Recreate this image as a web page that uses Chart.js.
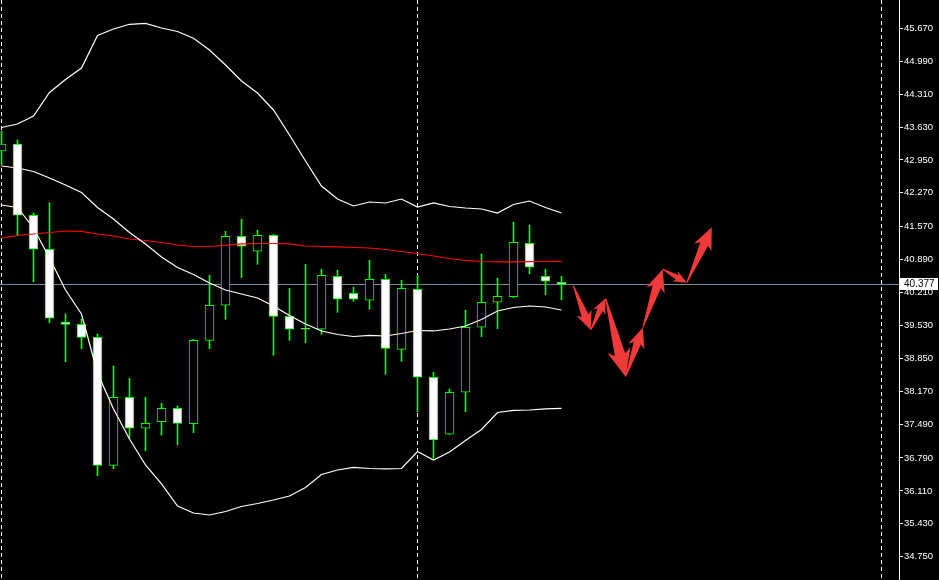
<!DOCTYPE html>
<html>
<head>
<meta charset="utf-8">
<script src="https://cdn.jsdelivr.net/npm/chart.js@4/dist/chart.umd.min.js"></script>
<style>
  html, body { margin: 0; padding: 0; background: #000; overflow: hidden; }
  #wrap { width: 939px; height: 580px; position: relative; }
</style>
</head>
<body>
<div id="wrap"><canvas id="myChart"></canvas></div>
<script>
// candle prices (one entry per bar, oldest first)
const opens  = [43.134, 43.279, 41.806, 41.103, 39.601, 39.553, 39.284, 36.639, 38.044, 37.404,
                37.540, 37.817, 37.499, 39.222, 39.946, 41.372, 41.062, 41.392, 39.718, 39.452,
                39.450, 40.545, 40.194, 40.049, 40.483, 39.036, 40.276, 38.458, 37.280, 38.148,
                39.491, 40.008, 40.123, 41.227, 40.545, 40.421];
const highs  = [43.548, 43.362, 41.853, 42.066, 39.766, 39.663, 39.353, 38.691, 38.437, 38.044,
                37.920, 37.865, 39.243, 40.566, 41.475, 41.723, 41.496, 41.413, 40.297, 40.793,
                40.690, 40.669, 40.318, 40.876, 40.586, 40.462, 40.566, 38.561, 38.216, 39.842,
                41.006, 40.504, 41.661, 41.605, 40.690, 40.545];
const lows   = [42.845, 41.399, 40.433, 39.586, 38.780, 39.049, 36.424, 36.569, 37.197, 36.941,
                37.265, 37.059, 37.313, 39.049, 39.656, 40.516, 40.793, 38.912, 39.222, 39.173,
                39.346, 39.801, 40.028, 39.863, 38.520, 38.789, 37.747, 36.784, 37.275, 37.747,
                39.297, 39.462, 40.103, 40.599, 40.165, 40.061];
const closes = [43.279, 41.806, 41.103, 39.677, 39.549, 39.284, 36.639, 38.044, 37.404, 37.507,
                37.817, 37.507, 39.222, 39.946, 41.372, 41.165, 41.392, 39.718, 39.450, 39.450,
                40.566, 40.070, 40.070, 40.483, 39.057, 40.297, 38.458, 37.162, 38.148, 39.491,
                40.008, 40.132, 41.248, 40.731, 40.442, 40.377];

// bollinger bands (white) and the slow moving average (red)
const upperBand  = [43.620, 43.692, 43.858, 44.343, 44.612, 44.850, 45.521, 45.656, 45.753, 45.773,
                    45.676, 45.604, 45.464, 45.222, 44.912, 44.581, 44.333, 43.982, 43.465, 42.928,
                    42.411, 42.142, 41.998, 42.080, 42.060, 42.142, 41.977, 42.060, 41.987, 41.956,
                    41.936, 41.853, 42.029, 42.101, 41.967, 41.853];
const middleBand = [42.824, 42.783, 42.711, 42.576, 42.432, 42.277, 41.967, 41.729, 41.450, 41.213,
                    40.944, 40.727, 40.582, 40.407, 40.262, 40.179, 40.097, 39.931, 39.735, 39.559,
                    39.415, 39.342, 39.301, 39.322, 39.311, 39.363, 39.425, 39.415, 39.456, 39.518,
                    39.652, 39.828, 39.900, 39.931, 39.911, 39.849];
const lowerBand  = [42.019, 41.967, 41.543, 40.923, 40.262, 39.766, 38.547, 37.803, 37.183, 36.645,
                    36.253, 35.798, 35.653, 35.612, 35.684, 35.788, 35.850, 35.922, 36.005, 36.180,
                    36.449, 36.542, 36.594, 36.573, 36.563, 36.573, 36.924, 36.749, 36.914, 37.152,
                    37.379, 37.730, 37.772, 37.782, 37.803, 37.817];
const redMA      = [41.337, 41.388, 41.419, 41.450, 41.481, 41.475, 41.419, 41.378, 41.316, 41.285,
                    41.244, 41.192, 41.161, 41.161, 41.182, 41.213, 41.223, 41.223, 41.213, 41.171,
                    41.161, 41.151, 41.140, 41.130, 41.099, 41.058, 41.016, 40.965, 40.913, 40.872,
                    40.851, 40.841, 40.841, 40.847, 40.851, 40.855];

// price axis labels
const tickLabels = [45.670, 44.990, 44.310, 43.630, 42.950, 42.270, 41.570, 40.890, 40.210,
                    39.530, 38.850, 38.170, 37.490, 36.790, 36.110, 35.430, 34.750];
const lastPrice = 40.377;

// dashed period separators (bar index)
const separators = [0, 26, 55];

// hand drawn forecast arrows (bar index / price of each turning point)
const arrowX = [35.74, 36.83, 37.76, 39.01, 40.08, 41.33, 42.83, 44.39];
const arrowY = [40.351, 39.435, 40.090, 38.470, 39.483, 40.690, 40.413, 41.558];

const candleIdx = opens.map((o, i) => i);
const GREEN = '#00ff00';
const FONT = '"Liberation Sans", Arial, sans-serif';

const bodies = candleIdx.map(i => ({ x: i, y: [opens[i], closes[i]] }));
const wicks = candleIdx.map(i => ({ x: i, y: [lows[i], highs[i]] }));
const bodyFill = candleIdx.map(i => closes[i] < opens[i] ? '#ffffff' : '#000000');
const asLine = arr => arr.map((v, i) => ({ x: i, y: v }));

// separators + bid line under the candles
const underlay = {
  id: 'underlay',
  beforeDatasetsDraw(chart) {
    const { ctx, chartArea, scales } = chart;
    ctx.save();
    ctx.strokeStyle = '#ffffff';
    ctx.lineWidth = 1;
    ctx.setLineDash([4, 3]);
    separators.forEach(s => {
      const px = Math.floor(scales.x.getPixelForValue(s)) + 0.5;
      ctx.beginPath();
      ctx.moveTo(px, chartArea.top);
      ctx.lineTo(px, chartArea.bottom);
      ctx.stroke();
    });
    ctx.setLineDash([]);
    const py = Math.round(scales.y.getPixelForValue(lastPrice)) + 0.5;
    ctx.strokeStyle = '#778899';
    ctx.beginPath();
    ctx.moveTo(chartArea.left, py);
    ctx.lineTo(chartArea.right, py);
    ctx.stroke();
    ctx.restore();
  }
};

// red arrows + price box on top
const overlay = {
  id: 'overlay',
  afterDatasetsDraw(chart) {
    const { ctx, chartArea, scales } = chart;
    ctx.save();
    ctx.beginPath();
    ctx.rect(chartArea.left, chartArea.top, chartArea.right - chartArea.left, chartArea.bottom - chartArea.top);
    ctx.clip();
    ctx.fillStyle = 'rgb(240,58,58)';
    for (let i = 0; i < arrowX.length - 1; i++) {
      const x0 = scales.x.getPixelForValue(arrowX[i]), y0 = scales.y.getPixelForValue(arrowY[i]);
      const x1 = scales.x.getPixelForValue(arrowX[i + 1]), y1 = scales.y.getPixelForValue(arrowY[i + 1]);
      const L = Math.hypot(x1 - x0, y1 - y0);
      const ux = (x1 - x0) / L, uy = (y1 - y0) / L;
      const nx = -uy, ny = ux;
      const headLen = Math.min(23, Math.max(10, L * 0.22 + 5));
      const headHalf = headLen * 0.52;
      const shaftHalf = headHalf * 0.45;
      const bx = x1 - ux * headLen, by = y1 - uy * headLen;
      const cx = bx - ux * headLen * 0.2, cy = by - uy * headLen * 0.2;
      ctx.beginPath();
      ctx.moveTo(x0 + nx * 0.5, y0 + ny * 0.5);
      ctx.lineTo(bx + nx * shaftHalf, by + ny * shaftHalf);
      ctx.lineTo(cx + nx * headHalf, cy + ny * headHalf);
      ctx.lineTo(x1, y1);
      ctx.lineTo(cx - nx * headHalf, cy - ny * headHalf);
      ctx.lineTo(bx - nx * shaftHalf, by - ny * shaftHalf);
      ctx.lineTo(x0 - nx * 0.5, y0 - ny * 0.5);
      ctx.closePath();
      ctx.fill();
    }
    ctx.restore();
  },
  afterDraw(chart) {
    const { ctx, chartArea, scales } = chart;
    const py = Math.round(scales.y.getPixelForValue(lastPrice));
    ctx.save();
    ctx.fillStyle = '#ffffff';
    ctx.fillRect(chartArea.right + 1, py - 6, 38, 12);
    ctx.fillStyle = '#000000';
    ctx.font = '10px ' + FONT;
    ctx.textBaseline = 'middle';
    ctx.fillText(lastPrice.toFixed(3), chartArea.right + 5, py + 0.5);
    ctx.restore();
  }
};

const ctx = document.getElementById('myChart');

new Chart(ctx, {
  type: 'bar',
  data: {
    datasets: [
      { type: 'line', data: asLine(upperBand), borderColor: '#ffffff', borderWidth: 1.2, pointRadius: 0, order: 0 },
      { type: 'line', data: asLine(middleBand), borderColor: '#ffffff', borderWidth: 1.2, pointRadius: 0, order: 0 },
      { type: 'line', data: asLine(lowerBand), borderColor: '#ffffff', borderWidth: 1.2, pointRadius: 0, order: 0 },
      { type: 'line', data: asLine(redMA), borderColor: '#ff0000', borderWidth: 1.2, pointRadius: 0, order: 0 },
      {
        data: bodies, backgroundColor: bodyFill, borderColor: GREEN, borderWidth: 1,
        borderSkipped: false, barThickness: 9, minBarLength: 1, grouped: false, order: 1
      },
      {
        data: wicks, backgroundColor: GREEN, borderWidth: 0,
        barThickness: 1, grouped: false, order: 2
      }
    ]
  },
  options: {
    responsive: true,
    maintainAspectRatio: false,
    animation: false,
    layout: { padding: 0 },
    plugins: { legend: { display: false }, tooltip: { enabled: false } },
    scales: {
      x: { type: 'linear', min: -0.09375, max: 56.09375, offset: false, display: false },
      y: {
        type: 'linear',
        position: 'right',
        min: 34.2685,
        max: 46.255,
        bounds: 'data',
        afterBuildTicks: s => { s.ticks = tickLabels.map(v => ({ value: v })); },
        afterFit: s => { s.width = 40; s.paddingTop = 0; s.paddingBottom = 0; },
        grid: { drawOnChartArea: false, drawTicks: true, tickLength: 4, color: '#ffffff' },
        border: { display: true, color: '#ffffff', width: 1 },
        ticks: {
          color: '#ffffff', padding: 1, autoSkip: false,
          font: { family: FONT, size: 9.5 },
          callback: v => Number(v).toFixed(3)
        }
      }
    }
  },
  plugins: [underlay, overlay]
});
</script>
</body>
</html>
